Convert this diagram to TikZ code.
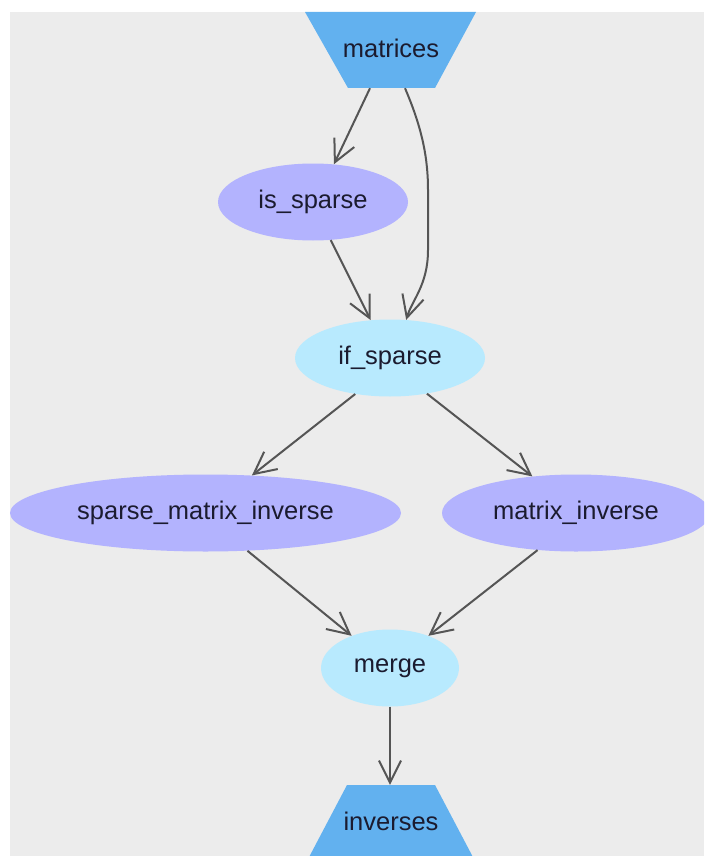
\documentclass[tikz,border=0pt]{standalone}
\usepackage{fontspec}
\setmainfont{Liberation Sans}
\usetikzlibrary{shapes.geometric,arrows.meta}
\definecolor{bgc}{HTML}{ECECEC}
\definecolor{trapc}{HTML}{62B1EF}
\definecolor{lavc}{HTML}{B3B3FE}
\definecolor{cyanc}{HTML}{B8EAFE}
\definecolor{edgec}{HTML}{555555}
\definecolor{txtc}{HTML}{1B1B2F}
\tikzset{
  lbl/.style={font=\fontsize{25.5}{30}\selectfont, text=txtc},
  oval/.style={ellipse, inner sep=0pt, lbl},
  lav/.style={oval, fill=lavc},
  cyn/.style={oval, fill=cyanc},
  trapnode/.style={rectangle, inner sep=0pt, minimum width=88pt, minimum height=76pt, lbl},
  conn/.style={draw=edgec, line width=2pt, -{Straight Barb[length=22pt,width=22pt]}},
}
\begin{document}
\begin{tikzpicture}[x=1pt,y=-1pt]
\useasboundingbox (0,0) rectangle (704,856);
\fill[white] (0,0) rectangle (704,856);
\fill[bgc] (10,12) rectangle (704,856);
\begin{scope}
\clip (10,12) rectangle (704,856);
% trapezoid shapes
\fill[trapc] (305,12) -- (476,12) -- (435,88) -- (348,88) -- cycle;
\fill[trapc] (347,785) -- (435,785) -- (475,861) -- (307,861) -- cycle;
\node[trapnode] (mat) at (391,50) {\raisebox{3pt}{matrices}};
\node[trapnode] (inv) at (391,823) {\raisebox{3pt}{inverses}};
\node[lav, minimum width=190pt, minimum height=77pt] (is) at (313,202) {is\_sparse};
\node[cyn, minimum width=190pt, minimum height=77pt] (ifs) at (390,358) {if\_sparse};
\node[lav, minimum width=391pt, minimum height=77pt] (smi) at (205.5,513) {sparse\_matrix\_inverse};
\node[lav, minimum width=268pt, minimum height=77pt] (mi) at (576,513) {matrix\_inverse};
\node[cyn, minimum width=138pt, minimum height=77pt] (mrg) at (390,668) {merge};
\end{scope}
% connectors
\draw[conn] ([xshift=-21pt]mat.south) -- (is.61);
\draw[conn] ([xshift=14pt]mat.south) .. controls (423,130) and (428,160) .. (428,190) -- (428,250) .. controls (428,285) and (412,300) .. (ifs.67);
\draw[conn] (is.-65) -- (ifs.117);
\draw[conn] (ifs.-134) -- (smi.39);
\draw[conn] (ifs.-44) -- (mi.140);
\draw[conn] (smi.-42) -- (mrg.140);
\draw[conn] (mi.-136) -- (mrg.40);
\draw[conn] (mrg.south) -- (mrg.south |- inv.north);
\end{tikzpicture}
\end{document}
